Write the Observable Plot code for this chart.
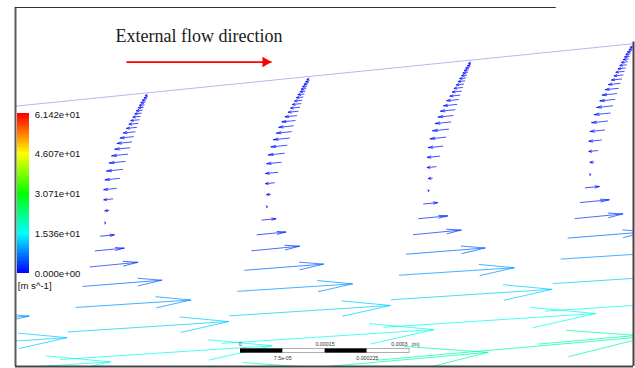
<!DOCTYPE html>
<html>
<head>
<meta charset="utf-8">
<script src="https://cdn.jsdelivr.net/npm/d3@7"></script>
<script src="https://cdn.jsdelivr.net/npm/@observablehq/plot@0.6"></script>
<style>
  body { margin: 0; background: #fff; }
  #chart { position: relative; width: 635px; height: 368px; overflow: hidden; }
  #chart svg { position: absolute; left: 0; top: 0; }
</style>
</head>
<body>
<div id="chart"></div>
<script>
// Domain extent, micrometres (x along the wall direction, y upward)
const FRAME_W = 1097, FRAME_H = 637;

// Wall (upper boundary) end points, µm
const wallX = [0, 1097];
const wallY = [461.9, 572.8];

// Grid lines normal to the wall: first node of each line, µm
const columnX = [-53.2, 233.8, 520.8, 807.8, 1094.8];
const columnY = [452.5, 481.1, 509.7, 538.3, 566.9];

// Node offsets along each grid line from its wall node, µm
const rowDX = [0, -1.2, -2.7, -4.1, -5.5, -7.1, -8.7, -10.5, -12.4, -14.4, -16.5, -19.0, -21.7, -24.5, -27.7, -31.1,
  -34.8, -39.1, -43.8, -49.2, -55.0, -61.2, -68.0, -75.3, -83.3, -92.1, -101.5, -114.0, -126.4, -140.6, -153.9, -168.1];
const rowDY = [0, -3.9, -8.0, -12.2, -16.7, -21.3, -26.3, -31.6, -37.3, -43.3, -49.7, -56.8, -64.6, -73.3, -82.7, -93.0,
  -104.4, -117.2, -131.4, -147.3, -165.1, -183.7, -204.1, -226.3, -249.9, -276.0, -304.4, -339.0, -376.3, -419.8, -468.6, -527.2];

// Streamwise velocity at each node, m/s (negative = reversed flow), and flow angle, degrees
const rowSpeed = [-0.15, -0.19, -0.25, -0.31, -0.35, -0.38, -0.46, -0.5, -0.56, -0.64, -0.69, -0.77, -0.9, -1.02, -1.12, -1.15,
  -1.23, -1.23, -1.23, -1.12, -0.96, -0.69, -0.31, 0.06, 1.08, 2.23, 3.69, 6.08, 8.85, 12.38, 16.31, 21.15];
const rowAngle = [5.8, 5.8, 5.8, 5.8, 5.8, 5.8, 5.8, 5.8, 5.8, 5.8, 5.8, 5.8, 5.8, 5.8, 5.8, 5.8,
  5.8, 5.8, 5.8, 5.8, 5.8, 5.8, 5.8, 5.8, 5.5, 5.5, 5.5, 4.5, 3.7, 3.7, 3.7, 5.0];

// Colour map ticks (m/s) and their labels
const legendTicks = [0, 15.36, 30.71, 46.07, 61.42];
const legendLabels = ["0.000e+00", "1.536e+01", "3.071e+01", "4.607e+01", "6.142e+01"];
const legendColors = ["#0000ff", "#00ffff", "#00ff00", "#ffff00", "#ff0000"];
const legendUnits = "[m s^-1]";

// Length scale bar, µm
const scaleBarOrigin = { x: 399.4, y: 23.6, h: 7.8 };
const scaleTicks = [0, 75, 150, 225, 300];
const scaleTopLabels = ["0", "", "0.00015", "", "0.0003"];
const scaleBottomLabels = ["", "7.5e-05", "", "0.000225", ""];

// Flow direction annotation
const title = { x: 177.5, y: 575.1, text: "External flow direction" };
const flowArrow = { x1: 197.0, x2: 454.4, y: 540.2 };

const vectors = columnX.flatMap((cx, c) => rowDX.map((dx, r) => ({
  x: cx + dx,
  y: columnY[c] + rowDY[r],
  speed: rowSpeed[r],
  angle: rowAngle[r]
})));

// Thin arrow with a long, narrow open head
const vectorShape = {
  draw(context, l) {
    const h = Math.min(l, Math.max(0.3 * l, 2.5));
    const w = Math.max(0.048 * l, 1.1);
    context.moveTo(0, 0);
    context.lineTo(0, -l);
    context.moveTo(-w, h - l);
    context.lineTo(0, -l);
    context.lineTo(w, h - l);
  }
};

const segs = scaleTicks.slice(0, -1).map((t, i) => ({
  x1: scaleBarOrigin.x + t, x2: scaleBarOrigin.x + scaleTicks[i + 1], dark: i % 2 === 0
}));
const scaleText = scaleTicks.map((t, i) => ({ x: scaleBarOrigin.x + t, top: scaleTopLabels[i], bottom: scaleBottomLabels[i] }));

const colorScale = { type: "linear", domain: legendTicks, range: legendColors };

const main = Plot.plot({
  width: 635,
  height: 368,
  marginLeft: 15,
  marginRight: 2,
  marginTop: 7,
  marginBottom: 2,
  x: { domain: [0, FRAME_W], axis: null },
  y: { domain: [0, FRAME_H], axis: null },
  color: colorScale,
  length: { type: "linear", domain: [0, 10], range: [0, 130] },
  style: { background: "#fff" },
  marks: [
    Plot.vector(vectors, {
      x: "x", y: "y",
      length: d => Math.abs(d.speed),
      rotate: d => (d.speed >= 0 ? 90 : 270) - d.angle,
      anchor: "start",
      stroke: d => Math.abs(d.speed),
      strokeWidth: 0.9,
      strokeOpacity: 0.78,
      shape: vectorShape,
      clip: true
    }),
    Plot.line(wallX.map((x, i) => ({ x, y: wallY[i] })), { x: "x", y: "y", stroke: "#b3bbe6", strokeWidth: 1 }),
    // scale bar
    Plot.rect(segs.filter(d => d.dark), { x1: "x1", x2: "x2", y1: scaleBarOrigin.y, y2: scaleBarOrigin.y + scaleBarOrigin.h, fill: "#000" }),
    Plot.rect(segs.filter(d => !d.dark), { x1: "x1", x2: "x2", y1: scaleBarOrigin.y, y2: scaleBarOrigin.y + scaleBarOrigin.h, fill: "#fff", stroke: "#777", strokeWidth: 0.6 }),
    Plot.text(scaleText.slice(0, -1), { x: "x", y: scaleBarOrigin.y + scaleBarOrigin.h, text: "top", dy: -3, lineAnchor: "bottom", fontSize: 5.3, fill: "#333", fontFamily: "Liberation Sans" }),
    Plot.text(scaleText.slice(-1), { x: "x", y: scaleBarOrigin.y + scaleBarOrigin.h, text: "top", dy: -3, dx: -2, textAnchor: "end", lineAnchor: "bottom", fontSize: 5.3, fill: "#333", fontFamily: "Liberation Sans" }),
    Plot.text(scaleText.slice(-1), { x: "x", y: scaleBarOrigin.y + scaleBarOrigin.h, text: () => "(m)", dy: -3, dx: 2, textAnchor: "start", lineAnchor: "bottom", fontSize: 5.3, fill: "#333", fontFamily: "Liberation Sans" }),
    Plot.text(scaleText, { x: "x", y: scaleBarOrigin.y, text: "bottom", dy: 7, lineAnchor: "bottom", fontSize: 5.3, fill: "#333", fontFamily: "Liberation Sans" }),
    // flow direction annotation
    Plot.text([title], { x: "x", y: "y", text: "text", textAnchor: "start", lineAnchor: "bottom", fontSize: 18, fontFamily: "Liberation Serif", fill: "#1a1a1a" }),
    Plot.link([flowArrow], { x1: "x1", x2: "x2", y1: "y", y2: "y", stroke: "#f00", strokeWidth: 1.8 }),
    Plot.dot([flowArrow], { x: "x2", y: "y", symbol: "triangle", rotate: 90, r: 3.9, fill: "#f00", stroke: "none", dx: -6 }),
    // domain border
    Plot.ruleX([0], { stroke: "#5a5a5a", strokeWidth: 2 }),
    Plot.ruleX([FRAME_W], { y1: 0, y2: 576, stroke: "#444", strokeWidth: 2 }),
    Plot.ruleY([0], { stroke: "#444", strokeWidth: 2 }),
    Plot.ruleY([FRAME_H], { x1: 0, x2: 960, stroke: "#333", strokeWidth: 1 })
  ]
});

// Colour legend
const bands = d3.range(120).map(i => ({ lo: 61.42 * i / 120, hi: 61.42 * (i + 1) / 120 }));
const legend = Plot.plot({
  width: 95,
  height: 200,
  margin: 0,
  x: { domain: [0, 1], range: [17.3, 29.3], axis: null },
  y: { domain: [0, 61.42], range: [173, 14], axis: null },
  color: colorScale,
  style: { background: "transparent" },
  marks: [
    Plot.rect(bands, { x1: 0, x2: 1, y1: "lo", y2: d => d.hi + 0.3, fill: d => (d.lo + d.hi) / 2, shapeRendering: "crispEdges" }),
    Plot.text(legendTicks, { x: 1, y: d => d, text: (d, i) => legendLabels[i], dx: 5, textAnchor: "start", fontSize: 9.6, fontFamily: "Liberation Sans", fill: "#111" }),
    Plot.text([legendUnits], { x: 0, y: 0, text: d => d, dy: 12, textAnchor: "start", fontSize: 9.6, fontFamily: "Liberation Sans", fill: "#111" })
  ]
});
legend.style.top = "100px";

const chart = document.getElementById("chart");
chart.appendChild(main);
chart.appendChild(legend);
</script>
</body>
</html>
